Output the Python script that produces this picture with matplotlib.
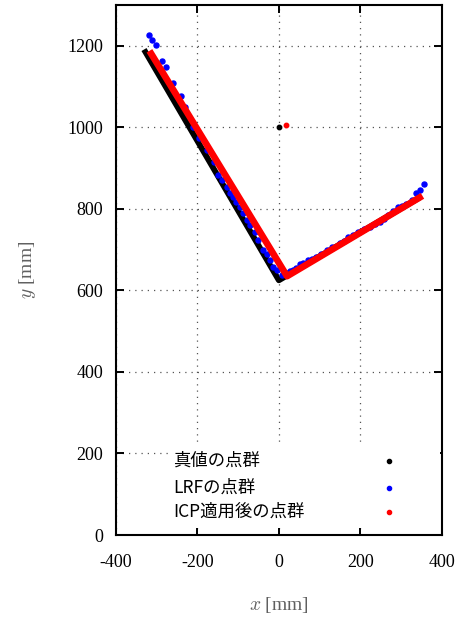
import matplotlib
matplotlib.use('Agg')
import matplotlib.pyplot as plt
from matplotlib.patches import Rectangle

# ground truth point cloud (dense L-shaped wall), corner points [mm]
true_x = [-327, 0, 340]
true_y = [1185, 625, 825]
true_origin = (0, 1000)

# point cloud after ICP, corner points [mm]
icp_x = [-313, 20, 345]
icp_y = [1181, 635, 828]
icp_origin = (17, 1005)

# raw LRF scan points [mm]
lrf_x = [-318, -310, -301, -286, -277, -260, -241, -230, -210, -195, -177,
         -160, -149, -140, -128, -120, -112, -104, -96, -88, -79, -70, -59,
         -50, -38, -30, -22, -14, -5, 7, 20, 28,
         35, 42, 51, 60, 72, 82, 92, 104, 117, 130, 149, 160, 170, 182,
         194, 208, 223, 235, 247, 258, 268, 280, 292, 302, 312, 327, 337,
         345, 355]
lrf_y = [1226, 1215, 1203, 1163, 1148, 1109, 1078, 1050, 1001, 975, 944,
         915, 883, 870, 854, 840, 830, 817, 805, 790, 772, 760, 744,
         725, 699, 690, 675, 658, 650, 638, 643, 647,
         650, 655, 666, 668, 674, 678, 682, 690, 700, 706, 716, 722, 730, 736,
         744, 750, 756, 762, 768, 775, 785, 795, 805, 808, 813, 823, 840,
         846, 861]

labels = ['真値の点群', 'LRFの点群', 'ICP適用後の点群']
colors = ['black', 'blue', 'red']

xticks = [-400, -200, 0, 200, 400]
yticks = [0, 200, 400, 600, 800, 1000, 1200]

plt.rcParams['mathtext.fontset'] = 'cm'

fig = plt.figure(figsize=(4.65, 6.18), dpi=100)
ax = fig.add_axes([0.2488, 0.1343, 0.7018, 0.8573])

# point clouds
ax.plot(true_x, true_y, color='black', lw=4.2, solid_joinstyle='round', zorder=2)
ax.plot(*true_origin, 'o', color='black', ms=3.2, zorder=2)
ax.plot(lrf_x, lrf_y, 'o', color='blue', ms=3.6, ls='none', zorder=3)
ax.plot(icp_x, icp_y, color='red', lw=4.8, solid_joinstyle='round', zorder=4)
ax.plot(*icp_origin, 'o', color='red', ms=3.2, zorder=4)

ax.set_xlim(-400, 400)
ax.set_ylim(0, 1300)
ax.set_xticks(xticks)
ax.set_yticks(yticks)
ax.set_xticklabels([str(v) for v in xticks], family='Liberation Serif', fontsize=13)
ax.set_yticklabels([str(v) for v in yticks], family='Liberation Serif', fontsize=13)
ax.tick_params(direction='in', length=6, width=1.4, top=True, right=True, pad=9)
ax.tick_params(axis='x', pad=14)

ax.set_axisbelow(True)
ax.grid(True, linestyle=(0, (1, 4)), color='#555555', lw=0.9)
for s in ax.spines.values():
    s.set_linewidth(1.5)

ax.set_xlabel('$x$ [mm]', family='Liberation Serif', fontsize=14,
              color='#606060', labelpad=17)
ax.set_ylabel('$y$ [mm]', family='Liberation Serif', fontsize=14,
              color='#606060', labelpad=21)

# gnuplot style key: opaque box, text left, dot right
ax.add_patch(Rectangle((0.16, 0.014), 0.834, 0.154, transform=ax.transAxes,
                       facecolor='white', edgecolor='none', zorder=1))
rows = [0.140, 0.0887, 0.044]
for lab, col, yy in zip(labels, colors, rows):
    ax.text(0.1756, yy, lab, transform=ax.transAxes, fontsize=12.5,
            family=['Noto Sans CJK JP', 'DejaVu Sans'], va='center', ha='left',
            zorder=5)
    ax.plot([0.8376], [yy], 'o', color=col, ms=3, transform=ax.transAxes,
            zorder=5, clip_on=False)

fig.savefig('out.png', dpi=100)
